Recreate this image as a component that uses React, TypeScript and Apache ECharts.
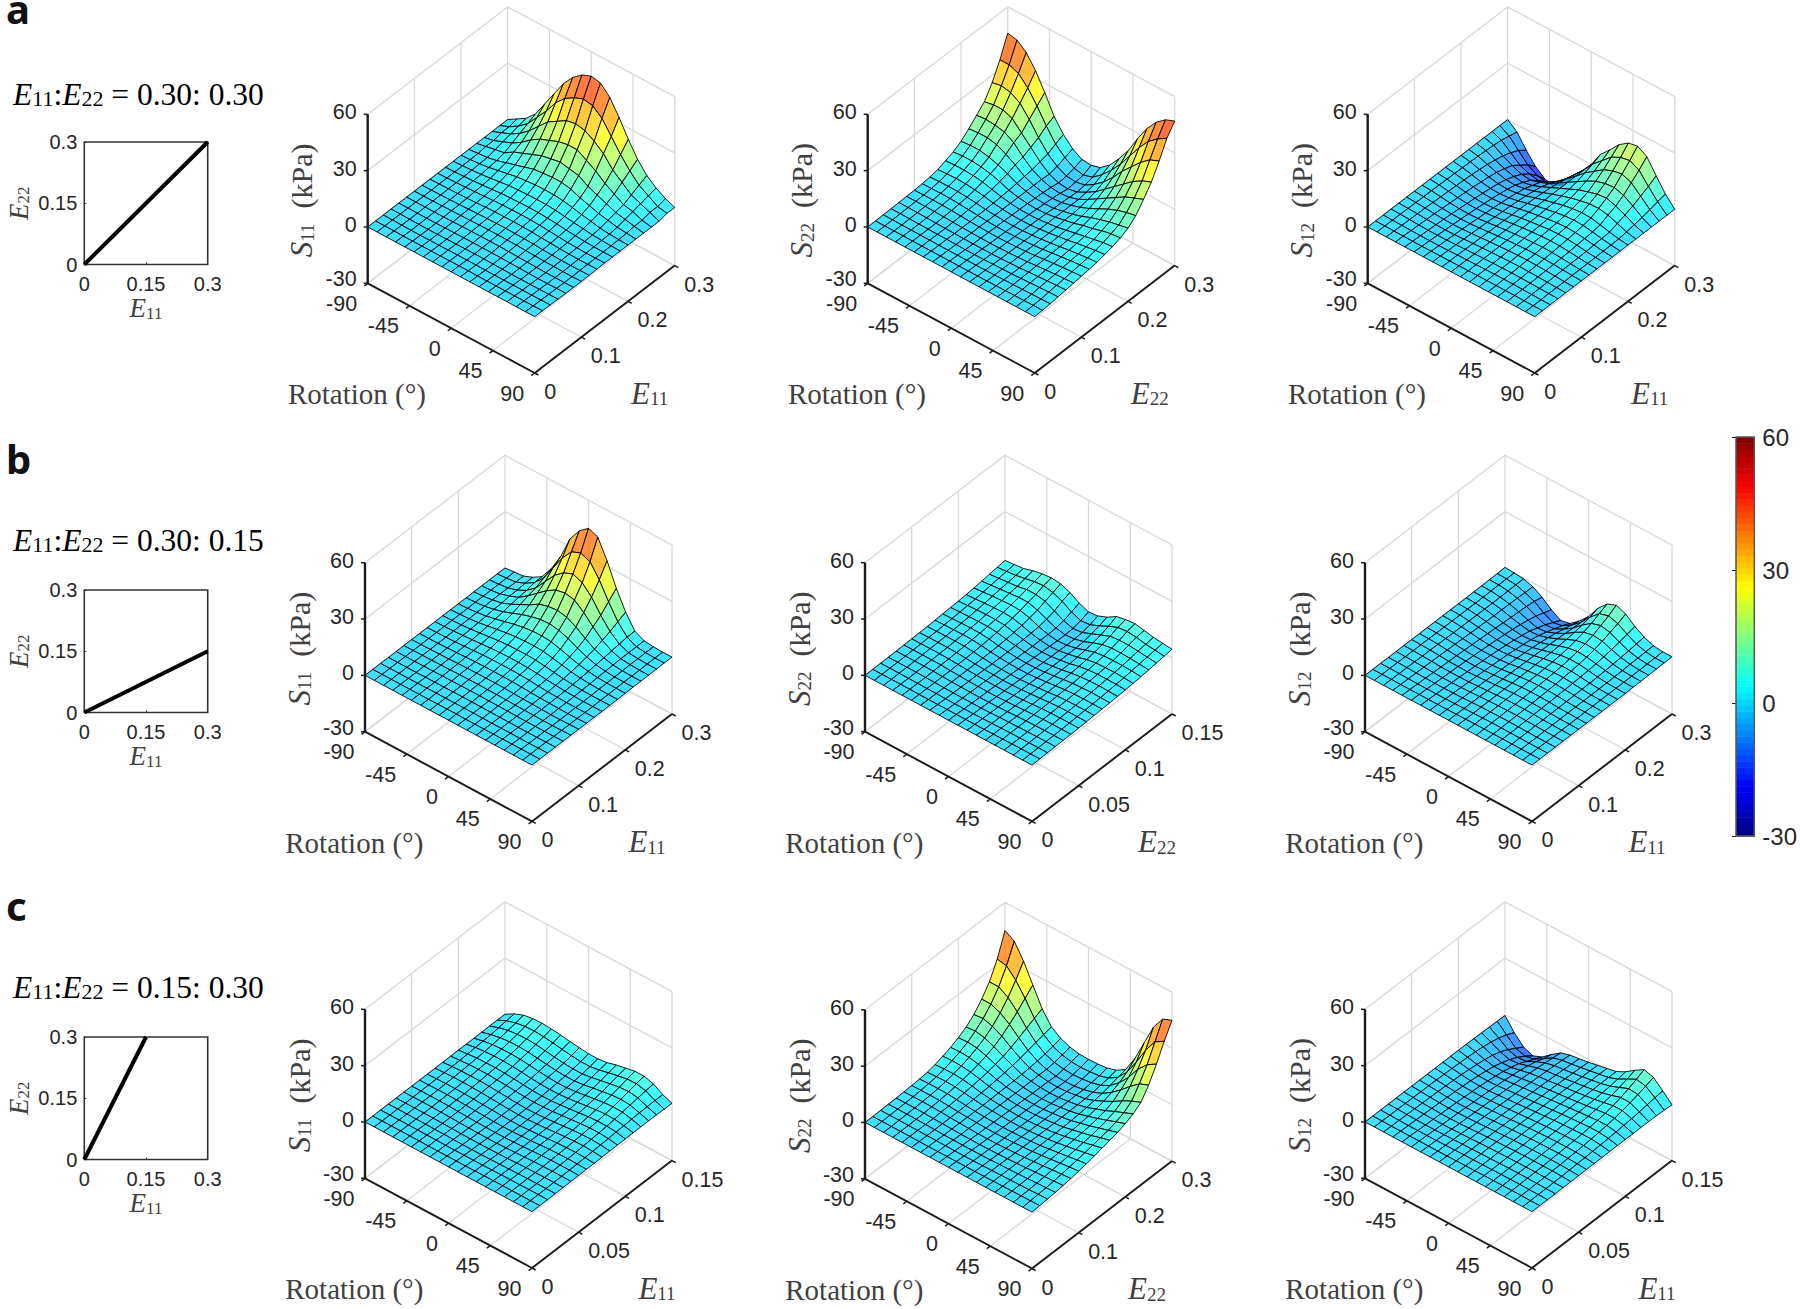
import React, { useEffect, useRef } from "react";
import * as echarts from "echarts";

const rotTicks = [-90, -45, 0, 45, 90];
const zTicks = [-30, 0, 30, 60];
const eTicksWide = ["0", "0.1", "0.2", "0.3"];
const eTicksNarrow = ["0", "0.05", "0.1", "0.15"];
const cols = [0, 1, 2];

// Each surface: rows from E = max (first) down to E = 0 (last), columns from rotation -90 to 90 in 10 degree steps.
const S11_a = [
  [0,3,6,11,19,27,35,41,45,47,46,41,33,24,16,10,6,3,1],
  [0,2,5,9,15,21,28,33,36,38,37,33,26,19,13,8,5,2,1],
  [0,2,4,7,11,16,21,24,27,28,27,24,20,14,10,6,4,2,0],
  [0,1,3,5,8,12,15,17,19,20,20,17,14,10,7,4,3,1,0],
  [0,1,2,3,6,8,10,12,13,14,13,12,9,7,5,3,2,1,0],
  [0,.5,1,2,3.5,5,6.5,8,8.5,9,9,8,6,4.5,3,2,1,.5,0],
  [0,.4,.8,1.5,2.5,3.5,4.5,5,5.5,5.6,5.5,5,4,3,2,1,.5,.2,0],
  [0,.3,.6,1,1.6,2.3,3,3.3,3.5,3.6,3.5,3.2,2.5,1.8,1.2,.6,.3,.1,0],
  [0,.2,.4,.7,1.1,1.5,2,2.2,2.4,2.5,2.4,2.1,1.7,1.1,.7,.3,.1,0,0],
  [0,.1,.3,.5,.8,1,1.4,1.6,1.7,1.8,1.7,1.5,1.1,.7,.3,.1,-.1,-.1,0],
  [0,.1,.2,.3,.5,.7,1,1.2,1.2,1.3,1.2,1,.7,.4,.1,-.1,-.2,-.2,-.1],
  [0,0,.1,.2,.3,.5,.7,.8,.9,.9,.8,.7,.4,.1,-.1,-.3,-.3,-.3,-.2],
  [0,0,0,.1,.2,.3,.4,.5,.6,.6,.5,.4,.2,0,-.2,-.3,-.4,-.4,-.3],
  [0,0,0,0,0,.1,.2,.3,.3,.3,.3,.2,0,-.1,-.3,-.4,-.4,-.4,-.3],
  [0,0,-.1,-.1,-.1,0,0,.1,.1,.1,.1,0,-.1,-.2,-.3,-.4,-.4,-.3,-.3],
  [0,0,-.1,-.2,-.2,-.2,-.1,-.1,0,0,0,-.1,-.2,-.3,-.3,-.3,-.3,-.3,-.2],
  [0,0,-.1,-.2,-.2,-.2,-.2,-.1,-.1,-.1,-.1,-.2,-.2,-.2,-.2,-.2,-.2,-.2,-.1],
  [0,0,0,-.1,-.1,-.1,-.1,-.1,0,0,0,-.1,-.1,-.1,-.1,-.1,-.1,-.1,0],
  [0,0,0,0,0,0,0,0,0,0,0,0,0,0,0,0,0,0,0],
];
const S22_a = [
  [46,45,41,34,25,15,8,3,0,-.5,1,5,11,18,27,35,41,45,47],
  [35,35,33,28,21,13,6,1.5,-1.5,-2.5,-1,3,8,14,21,28,34,38,41],
  [26,27,26,23,17,10,4,0,-2.5,-3,-2,1,5,10,16,21,26,30,32],
  [19,20,20,18,13,8,3,-1,-3,-3.5,-2.5,0,3,7,11,15,19,22,24],
  [15,15.5,15,14,11,6,2,-.6,-2.2,-2.7,-2.2,-.6,2,5,8,11,14,16,18],
  [11,11.5,11.5,10.5,8,5,1.5,-.6,-1.8,-2.2,-1.8,-.6,1,3,5.5,8,10,11.5,12.5],
  [7.5,8,8,7,5.5,3.5,1,-.6,-1.6,-1.9,-1.7,-.6,.5,2,4,5.5,7,8,9],
  [5,5.5,5.5,5,4,2.5,.5,-.6,-1.3,-1.6,-1.3,-.6,.5,1.5,3,4,5.5,6.5,7],
  [3.5,3.8,3.8,3.5,2.8,1.5,.3,-.6,-1.2,-1.3,-1.2,-.6,0,1,2,3,4,5,5.5],
  [2,2.3,2.5,2.3,1.8,1,0,-.6,-1.1,-1.2,-1.1,-.6,0,.8,1.5,2.5,3.3,4,4.5],
  [1.2,1.4,1.5,1.4,1,.5,-.2,-.6,-.9,-1.1,-.9,-.6,-.1,.5,1.2,2,2.6,3.2,3.5],
  [.8,.9,1,.9,.6,.2,-.2,-.6,-.8,-.9,-.8,-.5,-.2,.3,1,1.6,2.2,2.7,3],
  [.5,.6,.6,.5,.3,0,-.3,-.5,-.7,-.8,-.7,-.5,-.2,.2,.8,1.3,1.8,2.2,2.5],
  [.4,.4,.4,.3,.1,-.1,-.3,-.5,-.6,-.7,-.6,-.4,-.2,.1,.6,1,1.4,1.7,2],
  [.3,.3,.2,.1,-.1,-.2,-.3,-.4,-.5,-.5,-.5,-.4,-.2,0,.4,.7,1,1.3,1.5],
  [.2,.2,.1,0,-.1,-.2,-.2,-.3,-.4,-.4,-.4,-.2,-.1,0,.2,.5,.7,.9,1],
  [.1,.1,0,0,-.1,-.1,-.2,-.2,-.2,-.2,-.2,-.2,-.1,0,.1,.2,.3,.4,.5],
  [0,0,0,0,-.1,-.1,-.1,-.1,-.1,-.1,-.1,-.1,-.1,0,0,.1,.1,.2,.2],
  [0,0,0,0,0,0,0,0,0,0,0,0,0,0,0,0,0,0,0],
];
const S12_a = [
  [0,-4,-11,-17,-21,-22,-19,-12,-6,0,8,13,18.5,22,23,20,12.5,5.5,0],
  [0,-3,-8,-13,-16,-17,-15,-10,-5,0,6,10.5,15,17.5,18.5,16,10,4.5,0],
  [0,-2,-6,-10,-12,-13,-11,-8,-4,0,4.5,8,11.5,13.5,14.5,12.5,8,3.5,0],
  [0,-1.5,-4.5,-7,-9,-9.5,-8,-6,-3,0,3,6,8.5,10,10.5,9,6,2.5,0],
  [0,-1.2,-3.5,-5.5,-7,-7.5,-6.5,-4.5,-2.3,0,2.2,4.5,6,7.5,8,6.5,4.3,1.8,0],
  [0,-1,-2.7,-4.3,-5.5,-5.8,-5,-3.6,-1.8,0,1.7,3.3,4.5,5.5,5.7,4.8,3,1.2,0],
  [0,-.8,-2.2,-3.5,-4.5,-4.8,-4.2,-3,-1.5,0,1.3,2.6,3.5,4,3.8,2.8,1.6,.6,0],
  [0,-.7,-1.8,-3,-3.8,-4,-3.5,-2.5,-1.2,0,1,2,2.8,3.2,3,2.2,1.3,.5,0],
  [0,-.6,-1.5,-2.5,-3.2,-3.4,-3,-2.1,-1,0,.8,1.6,2.3,2.6,2.4,1.8,1,.4,0],
  [0,-.5,-1.3,-2.1,-2.7,-2.9,-2.5,-1.8,-.9,0,.7,1.3,1.9,2.1,2,1.5,.8,.3,0],
  [0,-.4,-1.1,-1.8,-2.3,-2.4,-2.1,-1.5,-.7,0,.6,1.1,1.5,1.7,1.6,1.2,.7,.3,0],
  [0,-.3,-.9,-1.5,-1.9,-2,-1.8,-1.2,-.6,0,.5,.9,1.2,1.4,1.3,1,.6,.2,0],
  [0,-.3,-.7,-1.2,-1.5,-1.6,-1.4,-1,-.5,0,.4,.7,1,1.1,1,.8,.5,.2,0],
  [0,-.2,-.5,-.9,-1.2,-1.3,-1.1,-.8,-.4,0,.3,.6,.8,.9,.8,.6,.4,.1,0],
  [0,-.2,-.4,-.7,-.9,-1,-.9,-.6,-.3,0,.2,.4,.6,.7,.6,.5,.3,.1,0],
  [0,-.1,-.3,-.5,-.7,-.7,-.6,-.4,-.2,0,.2,.3,.4,.5,.4,.3,.2,.1,0],
  [0,-.1,-.2,-.3,-.4,-.4,-.4,-.3,-.1,0,.1,.2,.3,.3,.3,.2,.1,0,0],
  [0,0,-.1,-.1,-.2,-.2,-.2,-.1,-.1,0,0,.1,.1,.1,.1,.1,0,0,0],
  [0,0,0,0,0,0,0,0,0,0,0,0,0,0,0,0,0,0,0],
];
const S11_b = [
  [0,.5,1,3,6,13,22,34,41,45,43,33,21,11,3.5,1,.5,.3,.3],
  [0,.4,1,3,6,11,19,27,33,35,33,26,17,9,3.5,1,.5,.3,.3],
  [0,.4,1,2.5,5,9,15,21,25,27,25,20,13,7,3,1,.5,.3,.3],
  [0,.3,1,2.5,4.5,8,12,16,19,20,19,15,10,5.5,2.5,1,.5,.2,.2],
  [0,.3,1,2,4,6.5,9,12,13.5,14,13,10.5,7,4,2,.8,.4,.2,.2],
  [0,.3,.8,1.8,3.2,5,7,8.5,9.7,10,9.2,7.5,5,3,1.5,.7,.3,.2,.2],
  [0,.2,.7,1.4,2.5,3.8,5,6,6.6,6.8,6.3,5,3.5,2.1,1.1,.5,.2,.1,.1],
  [0,.2,.5,1.1,1.9,2.8,3.6,4.2,4.5,4.6,4.3,3.4,2.4,1.4,.7,.3,.1,0,0],
  [0,.2,.4,.8,1.4,2,2.6,3,3.1,3.2,2.9,2.3,1.6,.9,.4,.1,0,0,0],
  [0,.1,.3,.6,1,1.4,1.8,2.1,2.2,2.2,2,1.6,1,.6,.2,0,-.1,-.1,0],
  [0,.1,.2,.4,.7,1,1.3,1.5,1.5,1.5,1.4,1.1,.7,.3,.1,-.1,-.1,-.1,0],
  [0,.1,.1,.3,.5,.7,.9,1,1,1,.9,.7,.4,.2,0,-.1,-.2,-.1,0],
  [0,0,.1,.2,.3,.5,.6,.7,.7,.7,.6,.4,.2,.1,-.1,-.2,-.2,-.1,0],
  [0,0,.1,.1,.2,.3,.4,.4,.5,.4,.4,.3,.1,0,-.1,-.2,-.2,-.1,0],
  [0,0,0,.1,.1,.2,.2,.3,.3,.3,.2,.2,.1,0,-.1,-.1,-.1,-.1,0],
  [0,0,0,0,.1,.1,.1,.2,.2,.2,.1,.1,0,0,-.1,-.1,-.1,0,0],
  [0,0,0,0,0,.1,.1,.1,.1,.1,.1,0,0,0,0,-.1,-.1,0,0],
  [0,0,0,0,0,0,0,.1,.1,.1,0,0,0,0,0,0,0,0,0],
  [0,0,0,0,0,0,0,0,0,0,0,0,0,0,0,0,0,0,0],
];
const S22_b = [
  [4,4.5,5,6.5,7.5,8,7.5,5.5,2.5,.5,1,3,6,7,7.5,6.5,5.5,5,4.5],
  [3.5,4,4.5,5.5,6.5,7,6,4,1,-1,-.5,1.5,4,6,6.5,6,5,4.5,4],
  [3,3.5,4,4.5,5.5,5.5,4.5,2,-.5,-2,-1.5,.5,2.5,4.5,5,5,4.5,4,3.5],
  [2.5,3,3.5,4,4.5,4.5,3,.8,-1.2,-2.2,-1.8,-.5,1.5,3.2,4,4,3.8,3.5,3],
  [2,2.5,3,3.3,3.6,3.3,2,0,-1.5,-2.2,-1.9,-.8,.8,2.3,3,3.2,3.2,3,2.6],
  [1.7,2,2.4,2.7,2.8,2.5,1.2,-.3,-1.4,-2,-1.7,-.8,.2,1.6,2.4,2.6,2.7,2.5,2.2],
  [1.4,1.7,2,2.2,2.2,1.8,.6,-.5,-1.4,-1.8,-1.6,-.9,-.1,1.1,1.9,2.2,2.3,2.2,1.9],
  [1.2,1.4,1.6,1.7,1.7,1.2,.2,-.6,-1.3,-1.6,-1.5,-.9,-.2,.7,1.4,1.8,1.9,1.8,1.6],
  [1,1.1,1.3,1.4,1.3,.8,-.1,-.7,-1.2,-1.4,-1.3,-.9,-.3,.5,1.1,1.4,1.6,1.5,1.4],
  [.8,.9,1,1.1,1,.5,-.2,-.7,-1.1,-1.3,-1.2,-.8,-.3,.3,.9,1.2,1.3,1.3,1.2],
  [.6,.7,.8,.8,.7,.3,-.3,-.7,-1,-1.1,-1.1,-.7,-.3,.1,.7,1,1.1,1.1,1],
  [.5,.6,.6,.6,.5,.1,-.3,-.6,-.8,-1,-.9,-.7,-.3,0,.5,.8,.9,.9,.8],
  [.4,.4,.5,.4,.3,0,-.3,-.5,-.7,-.8,-.8,-.6,-.3,0,.4,.6,.7,.7,.6],
  [.3,.3,.3,.3,.2,-.1,-.3,-.5,-.6,-.7,-.7,-.5,-.3,0,.3,.5,.5,.5,.5],
  [.2,.2,.2,.2,.1,-.1,-.3,-.4,-.5,-.6,-.5,-.4,-.2,0,.2,.3,.4,.4,.4],
  [.1,.1,.1,.1,0,-.1,-.2,-.3,-.4,-.4,-.4,-.3,-.1,0,.1,.2,.3,.3,.3],
  [.1,.1,.1,0,0,-.1,-.1,-.2,-.3,-.3,-.3,-.2,-.1,0,.1,.1,.2,.2,.2],
  [0,0,0,0,0,-.1,-.1,-.1,-.1,-.1,-.1,-.1,-.1,0,0,.1,.1,.1,.1],
  [0,0,0,0,0,0,0,0,0,0,0,0,0,0,0,0,0,0,0],
];
const S12_b = [
  [.3,0,-.5,-2,-5,-9,-12,-11,-7,-2,5,10,12,10,6,3,1,.5,.5],
  [.2,0,-.5,-2,-4,-7.5,-10,-9,-6,-2,3.5,8,9.5,8,5,2.5,1,.4,.4],
  [.1,0,-.6,-1.8,-3.5,-6,-8,-7.5,-5,-1.8,2.5,6,7.5,6.5,4,2,.8,.3,.3],
  [0,-.1,-.7,-1.7,-3.2,-5,-6.5,-6,-4,-1.5,1.8,4.5,5.5,5,3.2,1.6,.7,.2,.2],
  [0,-.2,-.7,-1.6,-3,-4.2,-5,-4.7,-3.2,-1.2,1.2,3.3,4.2,3.8,2.5,1.3,.5,.2,.1],
  [0,-.2,-.7,-1.6,-2.7,-3.6,-4.2,-3.8,-2.6,-1,.9,2.4,3.2,2.9,2,1,.4,.1,.1],
  [0,-.2,-.7,-1.5,-2.4,-3.1,-3.4,-3.1,-2.1,-.8,.6,1.8,2.4,2.3,1.6,.8,.3,.1,0],
  [0,-.2,-.7,-1.4,-2.1,-2.7,-2.9,-2.6,-1.7,-.6,.5,1.4,1.9,1.8,1.3,.7,.3,.1,0],
  [0,-.2,-.6,-1.2,-1.9,-2.3,-2.4,-2.1,-1.4,-.5,.4,1.1,1.5,1.5,1.1,.6,.2,.1,0],
  [0,-.2,-.6,-1.1,-1.6,-2,-2,-1.8,-1.2,-.4,.3,.9,1.2,1.2,.9,.5,.2,.1,0],
  [0,-.2,-.5,-.9,-1.4,-1.7,-1.7,-1.5,-1,-.3,.3,.8,1,1,.8,.4,.2,.1,0],
  [0,-.1,-.4,-.8,-1.2,-1.4,-1.4,-1.2,-.8,-.3,.2,.6,.8,.8,.6,.3,.2,0,0],
  [0,-.1,-.3,-.6,-1,-1.1,-1.2,-1,-.6,-.2,.2,.5,.6,.6,.5,.3,.1,0,0],
  [0,-.1,-.3,-.5,-.8,-.9,-.9,-.8,-.5,-.2,.1,.4,.5,.5,.4,.2,.1,0,0],
  [0,-.1,-.2,-.4,-.6,-.7,-.7,-.6,-.4,-.1,.1,.3,.4,.4,.3,.2,.1,0,0],
  [0,0,-.1,-.3,-.4,-.5,-.5,-.4,-.3,-.1,.1,.2,.3,.3,.2,.1,0,0,0],
  [0,0,-.1,-.2,-.3,-.3,-.3,-.3,-.2,-.1,0,.1,.2,.2,.1,.1,0,0,0],
  [0,0,0,-.1,-.1,-.1,-.1,-.1,-.1,0,0,.1,.1,.1,.1,0,0,0,0],
  [0,0,0,0,0,0,0,0,0,0,0,0,0,0,0,0,0,0,0],
];
const S11_c = [
  [.2,3,5,5.8,6,5.6,5,4.2,3.6,3,3,3.6,5,6,7,7,5.5,2.5,.5],
  [.2,2.5,4,4.8,5,4.6,4,3.2,2.5,2,2,2.8,4,5,6,6.2,5,2.5,.6],
  [.2,2,3.2,3.8,4,3.7,3,2.3,1.7,1.3,1.3,2,3,4,4.8,5.2,4.4,2.4,.7],
  [.1,1.5,2.5,3,3.1,2.8,2.2,1.6,1,.7,.7,1.3,2.2,3,3.8,4.2,3.8,2.3,.7],
  [.1,1.2,2,2.3,2.4,2.1,1.6,1,.5,.2,.3,.8,1.5,2.3,3,3.4,3.2,2.1,.7],
  [.1,1,1.5,1.8,1.8,1.5,1.1,.5,.1,-.1,0,.4,1,1.7,2.3,2.7,2.6,1.8,.7],
  [.1,.7,1.2,1.3,1.3,1.1,.7,.2,-.2,-.4,-.3,.1,.6,1.2,1.8,2.1,2.1,1.6,.6],
  [.1,.5,.9,1,1,.7,.4,0,-.4,-.6,-.5,-.2,.3,.8,1.3,1.7,1.7,1.3,.5],
  [0,.4,.6,.7,.7,.5,.1,-.2,-.6,-.8,-.7,-.4,0,.5,1,1.3,1.4,1.1,.5],
  [0,.3,.5,.5,.4,.2,-.1,-.4,-.7,-.9,-.8,-.5,-.2,.3,.7,1,1.1,.9,.4],
  [0,.2,.3,.3,.2,0,-.3,-.5,-.8,-.9,-.9,-.6,-.3,.1,.5,.7,.8,.7,.3],
  [0,.1,.2,.2,.1,-.1,-.3,-.6,-.8,-.9,-.8,-.6,-.4,0,.3,.5,.6,.5,.3],
  [0,.1,.1,.1,0,-.2,-.4,-.6,-.7,-.8,-.8,-.6,-.4,-.1,.2,.4,.4,.4,.2],
  [0,0,.1,0,-.1,-.2,-.4,-.5,-.6,-.7,-.7,-.5,-.3,-.1,.1,.2,.3,.3,.2],
  [0,0,0,0,-.1,-.2,-.3,-.4,-.5,-.5,-.5,-.4,-.3,-.1,.1,.1,.2,.2,.1],
  [0,0,0,0,-.1,-.2,-.2,-.3,-.4,-.4,-.4,-.3,-.2,-.1,0,.1,.1,.1,.1],
  [0,0,0,0,0,-.1,-.1,-.2,-.2,-.2,-.2,-.2,-.1,0,0,0,.1,.1,0],
  [0,0,0,0,0,0,-.1,-.1,-.1,-.1,-.1,-.1,0,0,0,0,0,0,0],
  [0,0,0,0,0,0,0,0,0,0,0,0,0,0,0,0,0,0,0],
];
const S22_c = [
  [45,42,34,24,14,7,3.5,1.5,.5,.3,.5,1,2.5,5.5,14,25,36,43,45],
  [33,32,27,20,12,6,2.5,.5,-.5,-.8,-.5,0,1.5,4.5,10,18,27,34,37],
  [24,24,21,16,10,5,1.5,-.3,-1.2,-1.5,-1.2,-.5,.8,3.3,7.5,13,20,25,28],
  [18,18,16,12.5,8,4,1,-.8,-1.8,-2,-1.8,-1,.3,2.3,5.5,9.5,14,18,20],
  [13,13.5,12,9.5,6,3,.5,-.7,-1.5,-1.8,-1.5,-.8,0,1.7,4,6.5,9.5,12,14],
  [9.5,10,9,7,4.5,2.3,.2,-.8,-1.4,-1.7,-1.5,-.9,-.1,1.2,3,4.8,7,9,11],
  [7,7.3,6.8,5.3,3.4,1.6,0,-.8,-1.4,-1.6,-1.5,-.9,-.2,.8,2.3,3.8,5.5,7.3,9],
  [5,5.3,5,4,2.5,1.1,-.1,-.8,-1.3,-1.5,-1.4,-.9,-.3,.5,1.8,3,4.5,6,7.5],
  [3.5,3.8,3.6,3,1.9,.7,-.2,-.8,-1.2,-1.4,-1.3,-.9,-.4,.3,1.4,2.5,3.7,5.2,6.5],
  [2.2,2.5,2.6,2.2,1.4,.4,-.3,-.8,-1.1,-1.3,-1.2,-.9,-.4,.2,1.1,2.1,3.2,4.4,5.5],
  [1.3,1.6,1.7,1.5,.9,.2,-.4,-.7,-1,-1.1,-1.1,-.8,-.4,.1,.9,1.7,2.6,3.6,4.5],
  [.9,1.1,1.1,1,.6,0,-.4,-.7,-.9,-1,-.9,-.7,-.4,0,.7,1.4,2.1,2.9,3.5],
  [.6,.7,.7,.6,.3,-.1,-.4,-.6,-.8,-.9,-.8,-.6,-.3,0,.5,1.1,1.7,2.3,2.8],
  [.4,.5,.5,.4,.2,-.1,-.3,-.5,-.7,-.7,-.7,-.5,-.3,0,.4,.8,1.3,1.7,2],
  [.3,.3,.3,.2,0,-.1,-.3,-.5,-.5,-.6,-.5,-.4,-.2,0,.3,.6,.9,1.2,1.5],
  [.2,.2,.2,.1,0,-.1,-.3,-.3,-.4,-.4,-.4,-.3,-.1,0,.2,.4,.6,.8,1],
  [.1,.1,.1,0,0,-.1,-.1,-.2,-.3,-.3,-.3,-.2,-.1,0,.1,.2,.3,.5,.6],
  [0,0,0,0,0,-.1,-.1,-.1,-.1,-.1,-.1,-.1,-.1,0,0,.1,.2,.2,.3],
  [0,0,0,0,0,0,0,0,0,0,0,0,0,0,0,0,0,0,0],
];
const S12_c = [
  [-.5,-7,-12,-14,-12,-8,-4.5,-3,-2.3,-1.5,-.5,.5,1.5,4,7.5,10.5,9,4.5,-.3],
  [-.4,-5,-9.5,-11,-10,-7,-4,-2.6,-2,-1.2,-.3,.6,1.5,3.3,6,8.5,7.5,4,0],
  [-.3,-3.5,-7,-8.5,-8,-5.5,-3.5,-2.3,-1.7,-1,-.2,.6,1.5,2.7,4.7,6.7,6.2,3.4,.2],
  [-.2,-2.5,-5,-6.5,-6,-4.5,-3,-2,-1.5,-.8,-.1,.6,1.4,2.3,3.6,5.2,5,2.8,.3],
  [-.1,-1.8,-3.7,-5,-4.8,-3.7,-2.6,-1.8,-1.3,-.6,0,.6,1.3,2,3,4,4,2.4,.3],
  [0,-1.3,-2.8,-3.8,-3.8,-3.1,-2.3,-1.6,-1.1,-.5,.1,.6,1.2,1.8,2.5,3.1,3.1,2,.3],
  [0,-1,-2.2,-3,-3.1,-2.6,-2,-1.4,-1,-.4,.1,.6,1.1,1.6,2,2.5,2.5,1.7,.3],
  [0,-.8,-1.7,-2.4,-2.5,-2.3,-1.8,-1.3,-.9,-.4,.1,.5,1,1.4,1.7,2,2,1.4,.3],
  [0,-.6,-1.3,-1.9,-2.1,-2,-1.6,-1.2,-.8,-.3,.1,.5,.9,1.2,1.4,1.6,1.6,1.1,.3],
  [0,-.5,-1.1,-1.6,-1.8,-1.7,-1.4,-1,-.7,-.3,.1,.4,.8,1,1.2,1.3,1.3,.9,.2],
  [0,-.4,-.9,-1.3,-1.5,-1.5,-1.2,-.9,-.6,-.3,.1,.4,.7,.9,1,1.1,1,.7,.2],
  [0,-.3,-.7,-1.1,-1.3,-1.3,-1.1,-.8,-.5,-.2,.1,.3,.6,.7,.8,.9,.8,.6,.2],
  [0,-.3,-.6,-.9,-1.1,-1.1,-.9,-.7,-.4,-.2,.1,.3,.5,.6,.7,.7,.6,.4,.1],
  [0,-.2,-.5,-.7,-.9,-.9,-.8,-.6,-.3,-.1,.1,.2,.4,.5,.5,.5,.5,.3,.1],
  [0,-.2,-.4,-.6,-.7,-.7,-.6,-.4,-.3,-.1,.1,.2,.3,.4,.4,.4,.3,.2,.1],
  [0,-.1,-.3,-.4,-.5,-.5,-.4,-.3,-.2,-.1,0,.1,.2,.3,.3,.3,.2,.1,0],
  [0,-.1,-.2,-.3,-.3,-.3,-.3,-.2,-.1,0,0,.1,.1,.2,.2,.2,.1,.1,0],
  [0,0,-.1,-.1,-.1,-.1,-.1,-.1,-.1,0,0,0,.1,.1,.1,.1,.1,0,0],
  [0,0,0,0,0,0,0,0,0,0,0,0,0,0,0,0,0,0,0],
];

const panels = [
  { L: [367.7, 283.3], s: "11", e: "11", ticks: eTicksWide, z: S11_a },
  { L: [867.7, 283.3], s: "22", e: "22", ticks: eTicksWide, z: S22_a },
  { L: [1367.7, 283.3], s: "12", e: "11", ticks: eTicksWide, z: S12_a },
  { L: [365, 731.7], s: "11", e: "11", ticks: eTicksWide, z: S11_b },
  { L: [865, 731.7], s: "22", e: "22", ticks: eTicksNarrow, z: S22_b },
  { L: [1365, 731.7], s: "12", e: "11", ticks: eTicksWide, z: S12_b },
  { L: [365, 1178.3], s: "11", e: "11", ticks: eTicksNarrow, z: S11_c },
  { L: [865, 1178.8], s: "22", e: "22", ticks: eTicksWide, z: S22_c },
  { L: [1365, 1178.3], s: "12", e: "11", ticks: eTicksNarrow, z: S12_c },
];
const ratios = [
  { top: 142, text: "0.30: 0.30", yEnd: 0.3, xEnd: 0.3, titleY: 94, letter: "a", letterMid: 8.5 },
  { top: 590, text: "0.30: 0.15", yEnd: 0.15, xEnd: 0.3, titleY: 540, letter: "b", letterMid: 458.5 },
  { top: 1037, text: "0.15: 0.30", yEnd: 0.3, xEnd: 0.15, titleY: 987, letter: "c", letterMid: 905.5 },
];

const SERIF = "'Liberation Serif', serif";
const SANS = "'Liberation Sans', Arial, sans-serif";
const jetStops = [[0, 0, 0, 0.5], [0.125, 0, 0, 1], [0.375, 0, 1, 1], [0.625, 1, 1, 0], [0.875, 1, 0, 0], [1, 0.5, 0, 0]];
function jet(t: number, a: number) {
  t = Math.max(0, Math.min(1, t));
  let k = 0;
  while (k < jetStops.length - 2 && t > jetStops[k + 1][0]) k++;
  const p = jetStops[k], q = jetStops[k + 1], f = (t - p[0]) / (q[0] - p[0]);
  const c = cols.map((n) => Math.round(255 * (p[n + 1] + (q[n + 1] - p[n + 1]) * f)));
  return `rgba(${c[0]},${c[1]},${c[2]},${a})`;
}
function proj(r: number, e: number, z: number) {
  const h = (z + 30) / 90;
  return [r * 167 + e * 140, -r * 89.7 + e * 107.4 + h * 169];
}
const subRich = {
  i: { fontFamily: SERIF, fontStyle: "italic", fontSize: 31, lineHeight: 30, color: "#404040" },
  s: { fontFamily: SERIF, fontSize: 19, lineHeight: 19, verticalAlign: "bottom", color: "#404040", padding: [12, 0, 0, 0] },
  n: { fontFamily: SERIF, fontSize: 30, lineHeight: 30, color: "#404040" },
};
const smallRich = {
  i: { fontFamily: SERIF, fontStyle: "italic", fontSize: 27, lineHeight: 27, color: "#404040" },
  s: { fontFamily: SERIF, fontSize: 17, lineHeight: 17, verticalAlign: "bottom", color: "#404040", padding: [10, 0, 0, 0] },
};

function buildOption() {
  const grid: any[] = [], xAxis: any[] = [], yAxis: any[] = [], series: any[] = [];
  panels.forEach((P) => {
    const idx = grid.length;
    grid.push({ left: P.L[0], top: P.L[1] - 280, width: 307, height: 370 });
    xAxis.push({ gridIndex: idx, type: "value", min: 0, max: 307, show: false });
    yAxis.push({ gridIndex: idx, type: "value", min: -90, max: 280, show: false });
    const segs: number[][] = [];
    zTicks.forEach((z) => { segs.push([0, 0, z, 0, 1, z]); segs.push([0, 1, z, 1, 1, z]); });
    rotTicks.forEach((t) => { const r = (t + 90) / 180; segs.push([r, 0, -30, r, 1, -30]); if (r > 0) segs.push([r, 1, -30, r, 1, 60]); });
    P.ticks.forEach((_, i) => { const e = i / 3; segs.push([0, e, -30, 1, e, -30]); if (e > 0) segs.push([0, e, -30, 0, e, 60]); });
    series.push({
      type: "custom", xAxisIndex: idx, yAxisIndex: idx, silent: true, data: segs, clip: false, z: 1,
      renderItem: (_: any, api: any) => {
        const a = api.coord(proj(api.value(0), api.value(1), api.value(2)));
        const b = api.coord(proj(api.value(3), api.value(4), api.value(5)));
        return { type: "line", shape: { x1: a[0], y1: a[1], x2: b[0], y2: b[1] }, style: { stroke: "#d9d9d9", lineWidth: 1.3 } };
      },
    });
    const Z = P.z, nE = Z.length - 1, nR = Z[0].length - 1;
    const at = (a: number, b: number) => Z[nE - b][a];
    const cells: number[][] = [];
    for (let i = 0; i < nR; i++) for (let j = nE - 1; j >= 0; j--) cells.push([i, j]);
    series.push({
      type: "custom", xAxisIndex: idx, yAxisIndex: idx, silent: true, data: cells, clip: false, z: 2,
      renderItem: (_: any, api: any) => {
        const i = api.value(0), j = api.value(1);
        const cs = [[i, j], [i + 1, j], [i + 1, j + 1], [i, j + 1]];
        const pts = cs.map(([a, b]) => api.coord(proj(a / nR, b / nE, at(a, b))));
        const m = cs.reduce((s, [a, b]) => s + at(a, b), 0) / 4;
        return { type: "polygon", shape: { points: pts }, style: { fill: jet((m + 30) / 90, 0.75), stroke: "rgba(0,0,0,0.92)", lineWidth: 0.95 } };
      },
    });
    const axisSegs = [[0, 0, -30, 0, 0, 60, 2.4], [0, 0, -30, 1, 0, -30, 1.9], [1, 0, -30, 1, 1, -30, 1.9]];
    series.push({
      type: "custom", xAxisIndex: idx, yAxisIndex: idx, silent: true, data: axisSegs, clip: false, z: 3,
      renderItem: (_: any, api: any) => {
        const a = api.coord(proj(api.value(0), api.value(1), api.value(2)));
        const b = api.coord(proj(api.value(3), api.value(4), api.value(5)));
        return { type: "line", shape: { x1: a[0], y1: a[1], x2: b[0], y2: b[1] }, style: { stroke: "#1a1a1a", lineWidth: api.value(6) } };
      },
    });
    const labels: any[] = [];
    zTicks.forEach((z) => labels.push(["z", z, String(z)]));
    rotTicks.forEach((t) => labels.push(["r", t, String(t)]));
    P.ticks.forEach((t, i) => labels.push(["e", i / 3, t]));
    series.push({
      type: "custom", xAxisIndex: idx, yAxisIndex: idx, silent: true, clip: false, z: 4,
      data: labels.map((_, k) => [k]),
      renderItem: (_: any, api: any) => {
        const [kind, v, txt] = labels[api.value(0)];
        let p: number[], dx = 0, dy = 0, align = "right", tick: number[];
        if (kind === "z") { p = api.coord(proj(0, 0, v)); dx = -11; dy = v === -30 ? -4 : -2; tick = [-4, 0]; }
        else if (kind === "r") { p = api.coord(proj((v + 90) / 180, 0, -30)); dx = -10.5; dy = 20.5; tick = [-3.4, 2.6]; }
        else { p = api.coord(proj(1, v, -30)); dx = 9.5; dy = 19; align = "left"; tick = [3.7, 2]; }
        return {
          type: "group",
          children: [
            { type: "line", shape: { x1: p[0], y1: p[1], x2: p[0] + tick[0], y2: p[1] + tick[1] }, style: { stroke: "#1a1a1a", lineWidth: 1.5 } },
            { type: "text", x: p[0] + dx, y: p[1] + dy, style: { text: txt, fontFamily: SANS, fontSize: 21.5, fill: "#262626", align, verticalAlign: "middle" } },
          ],
        };
      },
    });
    const names = [
      { text: `{i|S}{s|${P.s}}{n|  (kPa)}`, dx: -66, dy: -83, rot: Math.PI / 2 },
      { text: "Rotation (°)", dx: -10.7, dy: 111, rot: 0 },
      { text: `{i|E}{s|${P.e}}`, dx: P.ticks === eTicksWide ? 282 : 292, dy: 110, rot: 0 },
    ];
    series.push({
      type: "custom", xAxisIndex: idx, yAxisIndex: idx, silent: true, clip: false, z: 4,
      data: names.map((_, k) => [k]),
      renderItem: (_: any, api: any) => {
        const n = names[api.value(0)];
        const base = api.coord(proj(0, 0, -30));
        return {
          type: "text", x: base[0] + n.dx, y: base[1] + n.dy, rotation: n.rot,
          style: { text: n.text, rich: subRich, align: "center", verticalAlign: "middle", fontFamily: SERIF, fontSize: 29, fill: "#404040" },
        };
      },
    });
  });

  ratios.forEach((R) => {
    const idx = grid.length;
    grid.push({ left: 84.3, top: R.top, width: 123.4, height: 122.5, show: true, borderColor: "#333", borderWidth: 1.6, backgroundColor: "transparent" });
    xAxis.push({
      gridIndex: idx, type: "value", min: 0, max: 0.3, interval: 0.15, name: "{i|E}{s|11}", nameLocation: "middle", nameGap: 30,
      nameTextStyle: { rich: smallRich },
      axisLine: { show: false }, axisTick: { inside: true, length: 2, lineStyle: { color: "#333" } }, splitLine: { show: false },
      axisLabel: { fontFamily: SANS, fontSize: 20, color: "#262626", margin: 9, formatter: (v: number) => String(v), showMinLabel: true, showMaxLabel: true },
    });
    yAxis.push({
      gridIndex: idx, type: "value", min: 0, max: 0.3, interval: 0.15, name: "{i|E}{s|22}", nameLocation: "middle", nameGap: 52, nameRotate: 90,
      nameTextStyle: { rich: smallRich },
      axisLine: { show: false }, axisTick: { inside: true, length: 2, lineStyle: { color: "#333" } }, splitLine: { show: false },
      axisLabel: { fontFamily: SANS, fontSize: 20, color: "#262626", margin: 7, formatter: (v: number) => String(v), showMinLabel: true, showMaxLabel: true },
    });
    series.push({
      type: "line", xAxisIndex: idx, yAxisIndex: idx, symbol: "none", silent: true,
      lineStyle: { color: "#000", width: 4 }, data: [[0, 0], [R.xEnd, R.yEnd]], z: 3,
    });
  });

  // colour bar
  const cbi = grid.length;
  grid.push({ left: 1736, top: 437, width: 19, height: 399, show: true, borderColor: "#555", borderWidth: 1.5, backgroundColor: "transparent", z: 5 });
  xAxis.push({ gridIndex: cbi, type: "value", min: 0, max: 1, show: false });
  yAxis.push({
    gridIndex: cbi, type: "value", position: "right", min: -30, max: 60, interval: 30,
    axisLine: { show: false }, axisTick: { inside: true, length: 4, lineStyle: { color: "#222" } }, splitLine: { show: false },
    axisLabel: { fontFamily: SANS, fontSize: 24, color: "#262626", margin: 8, showMinLabel: true, showMaxLabel: true },
  });
  const levels = Array.from({ length: 64 }, (_, k) => [-30 + (k * 90) / 64, -30 + ((k + 1) * 90) / 64]);
  series.push({
    type: "custom", xAxisIndex: cbi, yAxisIndex: cbi, silent: true, data: levels, z: 2, clip: false,
    renderItem: (_: any, api: any) => {
      const a = api.coord([0, api.value(0)]), b = api.coord([1, api.value(1)]);
      return { type: "rect", shape: { x: a[0], y: b[1], width: b[0] - a[0], height: a[1] - b[1] + 0.5 }, style: { fill: jet((api.value(0) + 45 / 64 + 30) / 90, 1) } };
    },
  });

  const graphic: any[] = [];
  ratios.forEach((R) => {
    graphic.push({
      type: "text", x: 6, y: R.letterMid,
      style: { text: R.letter, fontFamily: "'Noto Sans', sans-serif", fontWeight: "bold", fontSize: 40, lineHeight: 16, verticalAlign: "middle", fill: "#111" },
    });
    graphic.push({
      type: "text", x: 13, y: R.titleY,
      style: {
        text: `{i|E}{s|11}{n|:}{i|E}{s|22}{n| = ${R.text}}`,
        verticalAlign: "middle",
        rich: {
          i: { fontFamily: SERIF, fontStyle: "italic", fontSize: 31.5, lineHeight: 30, color: "#000" },
          s: { fontFamily: SERIF, fontSize: 22, lineHeight: 22, verticalAlign: "bottom", color: "#000", padding: [10, 0, 0, 0] },
          n: { fontFamily: SERIF, fontSize: 31.5, lineHeight: 30, color: "#000" },
        },
      },
    });
  });
  return { animation: false, backgroundColor: "#fff", grid, xAxis, yAxis, series, graphic };
}

export default function App() {
  const ref = useRef<HTMLDivElement>(null);
  useEffect(() => {
    document.body.style.margin = "0";
    const chart = echarts.init(ref.current!, undefined, { renderer: "svg" });
    chart.setOption(buildOption() as any);
    return () => chart.dispose();
  }, []);
  return <div ref={ref} style={{ width: 1800, height: 1309 }} />;
}
